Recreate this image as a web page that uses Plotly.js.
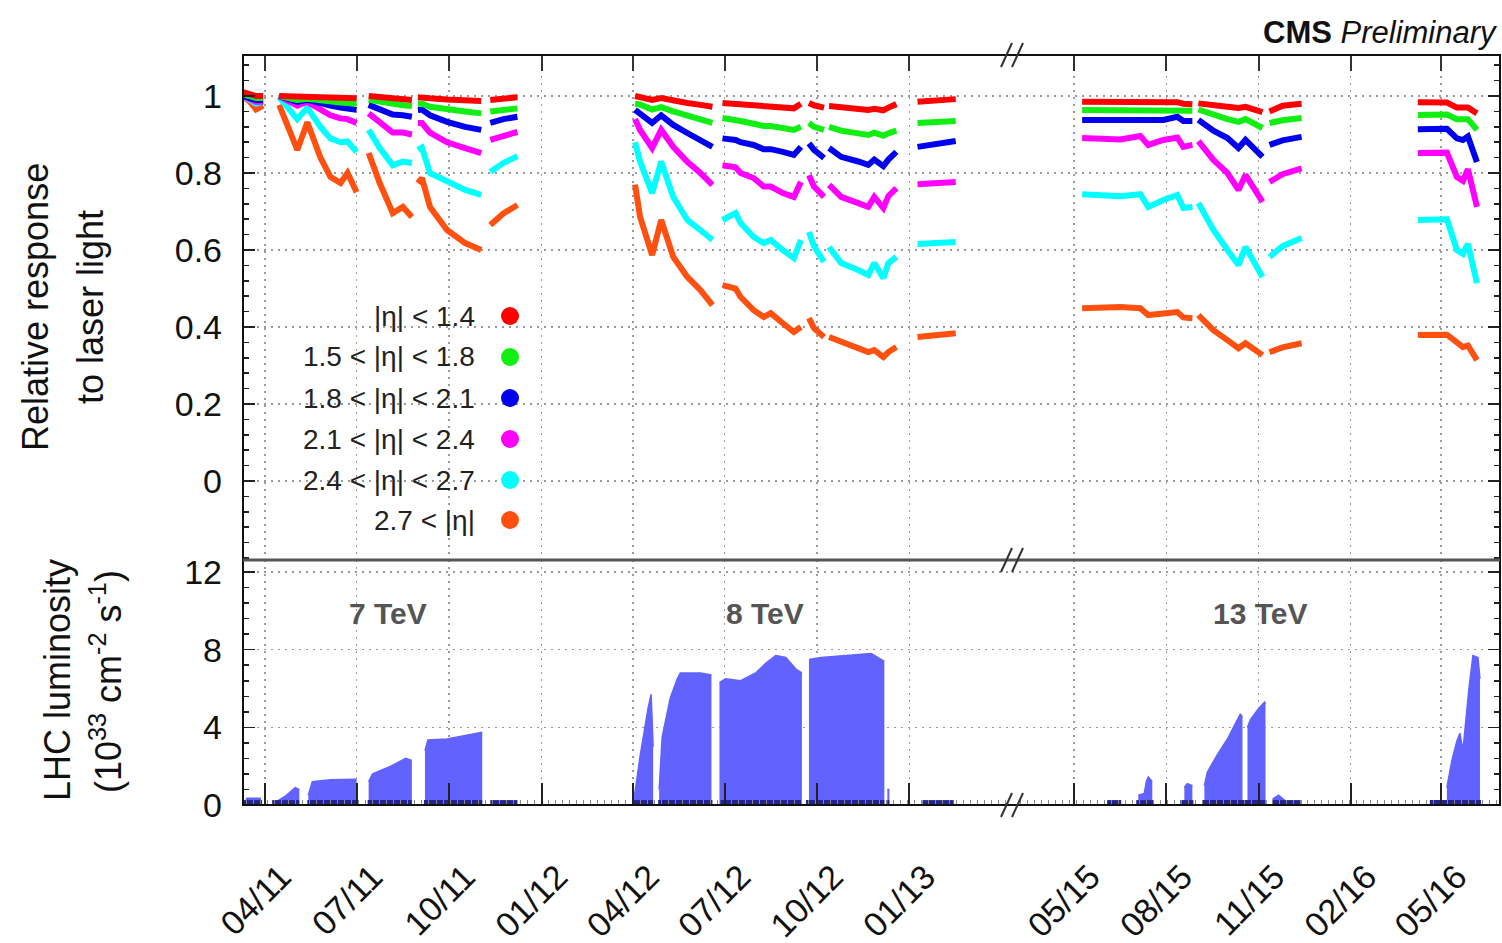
<!DOCTYPE html>
<html><head><meta charset="utf-8">
<script src="https://cdn.plot.ly/plotly-3.0.1.min.js"></script>
<style>html,body{margin:0;padding:0;background:#fff}#chart{width:1502px;height:943px}</style>
</head><body><div id="chart"></div>
<script>
// ---------------- DATA ----------------
// Relative response to laser light: sample dates (null = gap between fills / runs)
const respDates = [
 '2011-03-10','2011-03-17','2011-03-23','2011-03-30',null,
 '2011-04-15','2011-05-03','2011-05-13','2011-05-26','2011-06-05','2011-06-15','2011-06-22','2011-07-01',null,
 '2011-07-13','2011-07-24','2011-08-06','2011-08-16','2011-08-25',null,
 '2011-08-31','2011-09-04','2011-09-12','2011-09-29','2011-10-17','2011-11-02',null,
 '2011-11-11','2011-11-24','2011-12-08',null,
 '2012-04-03','2012-04-08','2012-04-20','2012-04-29','2012-05-11','2012-05-25','2012-06-07','2012-06-19',null,
 '2012-06-29','2012-07-12','2012-07-17','2012-07-30','2012-08-09','2012-08-16','2012-08-28','2012-09-08','2012-09-15',null,
 '2012-09-23','2012-09-28','2012-10-08',null,
 '2012-10-13','2012-10-25','2012-11-11','2012-11-21','2012-11-27','2012-12-06','2012-12-11','2012-12-19',null,
 '2013-01-09','2013-02-16',null,
 '2015-05-09','2015-06-16','2015-07-06','2015-07-14','2015-07-29','2015-08-12','2015-08-18','2015-08-27',null,
 '2015-09-02','2015-09-17','2015-10-01','2015-10-12','2015-10-19','2015-11-05',null,
 '2015-11-12','2015-11-25','2015-12-14',null,
 '2016-04-08','2016-05-07','2016-05-17','2016-05-23','2016-05-28','2016-06-06'
];
const etaBelow14 = [
 1.01,1.005,1.0,1.0,null,
 1.0,0.997,0.998,0.997,0.996,0.995,0.995,0.994,null,
 1.0,0.997,0.993,0.992,0.99,null,
 0.997,0.997,0.994,0.991,0.989,0.987,null,
 0.99,0.994,0.997,null,
 1.0,0.998,0.99,0.995,0.988,0.982,0.977,0.972,null,
 0.982,0.98,0.978,0.975,0.972,0.972,0.97,0.968,0.98,null,
 0.982,0.976,0.97,null,
 0.974,0.97,0.966,0.964,0.967,0.963,0.97,0.979,null,
 0.985,0.992,null,
 0.985,0.985,0.985,0.984,0.984,0.984,0.98,0.979,null,
 0.981,0.975,0.972,0.969,0.972,0.958,null,
 0.96,0.975,0.98,null,
 0.984,0.983,0.97,0.972,0.97,0.955
];
const eta15to18 = [
 1.005,1.0,0.995,0.995,null,
 1.0,0.99,0.993,0.988,0.985,0.983,0.982,0.98,null,
 0.99,0.985,0.978,0.976,0.974,null,
 0.98,0.98,0.972,0.965,0.96,0.955,null,
 0.96,0.965,0.968,null,
 0.98,0.978,0.965,0.971,0.96,0.95,0.94,0.93,null,
 0.943,0.94,0.935,0.928,0.922,0.922,0.917,0.912,0.92,null,
 0.93,0.92,0.912,null,
 0.92,0.91,0.903,0.899,0.905,0.897,0.903,0.91,null,
 0.93,0.935,null,
 0.964,0.964,0.964,0.963,0.964,0.965,0.962,0.962,null,
 0.965,0.95,0.94,0.933,0.94,0.917,null,
 0.93,0.937,0.943,null,
 0.951,0.952,0.94,0.942,0.94,0.912
];
const eta18to21 = [
 1.0,0.995,0.99,0.99,null,
 1.0,0.985,0.99,0.98,0.975,0.97,0.968,0.964,null,
 0.977,0.965,0.952,0.95,0.946,null,
 0.964,0.965,0.95,0.933,0.92,0.912,null,
 0.93,0.94,0.946,null,
 0.964,0.955,0.93,0.95,0.925,0.904,0.885,0.868,null,
 0.89,0.886,0.88,0.873,0.862,0.862,0.855,0.847,0.868,null,
 0.877,0.86,0.839,null,
 0.865,0.842,0.83,0.821,0.835,0.818,0.835,0.855,null,
 0.868,0.883,null,
 0.938,0.937,0.937,0.935,0.938,0.946,0.935,0.935,null,
 0.938,0.91,0.891,0.865,0.886,0.842,null,
 0.873,0.885,0.894,null,
 0.914,0.915,0.89,0.886,0.895,0.829
];
const eta21to24 = [
 1.0,0.99,0.985,0.985,null,
 1.0,0.975,0.985,0.963,0.95,0.942,0.94,0.93,null,
 0.955,0.93,0.905,0.905,0.90,null,
 0.93,0.93,0.905,0.88,0.865,0.852,null,
 0.886,0.898,0.907,null,
 0.94,0.912,0.865,0.912,0.868,0.829,0.80,0.769,null,
 0.82,0.815,0.80,0.787,0.765,0.765,0.748,0.738,0.777,null,
 0.794,0.765,0.738,null,
 0.769,0.738,0.722,0.712,0.738,0.709,0.74,0.761,null,
 0.771,0.777,null,
 0.891,0.887,0.896,0.873,0.886,0.892,0.868,0.873,null,
 0.883,0.834,0.80,0.756,0.795,0.725,null,
 0.777,0.797,0.812,null,
 0.852,0.853,0.79,0.78,0.81,0.712
];
const eta24to27 = [
 1.0,0.99,0.98,0.985,null,
 0.997,0.94,0.97,0.92,0.89,0.88,0.882,0.855,null,
 0.912,0.865,0.82,0.83,0.826,null,
 0.86,0.866,0.80,0.78,0.756,0.743,null,
 0.803,0.826,0.844,null,
 0.88,0.83,0.748,0.83,0.738,0.678,0.652,0.626,null,
 0.678,0.696,0.67,0.634,0.618,0.626,0.60,0.579,0.626,null,
 0.647,0.61,0.569,null,
 0.608,0.566,0.548,0.535,0.566,0.527,0.566,0.582,null,
 0.616,0.621,null,
 0.745,0.74,0.745,0.712,0.73,0.743,0.709,0.712,null,
 0.722,0.652,0.60,0.561,0.608,0.53,null,
 0.582,0.61,0.631,null,
 0.678,0.68,0.60,0.59,0.616,0.514
];
const etaAbove27 = [
 1.0,0.985,0.965,0.975,null,
 0.977,0.86,0.932,0.84,0.79,0.774,0.80,0.75,null,
 0.852,0.774,0.696,0.712,0.686,null,
 0.774,0.787,0.712,0.652,0.618,0.60,null,
 0.665,0.695,0.717,null,
 0.77,0.686,0.587,0.678,0.582,0.53,0.496,0.457,null,
 0.509,0.50,0.478,0.444,0.426,0.436,0.41,0.387,0.40,null,
 0.423,0.397,0.374,null,
 0.374,0.361,0.345,0.335,0.34,0.322,0.335,0.348,null,
 0.374,0.384,null,
 0.449,0.452,0.449,0.431,0.435,0.439,0.425,0.423,null,
 0.431,0.392,0.366,0.345,0.358,0.327,null,
 0.335,0.347,0.358,null,
 0.379,0.38,0.36,0.348,0.352,0.314
];
const etaLabels = ['|η| &lt; 1.4','1.5 &lt; |η| &lt; 1.8','1.8 &lt; |η| &lt; 2.1','2.1 &lt; |η| &lt; 2.4','2.4 &lt; |η| &lt; 2.7','2.7 &lt; |η|'];
const etaColors = ['#ff0000','#11ee11','#0000ee','#ff00ff','#00ffff','#ff5010'];

// LHC peak luminosity envelope (10^33 cm^-2 s^-1), null separates fill periods
const lumDates = [
 '2011-03-11','2011-03-14','2011-03-27','2011-03-28',null,
 '2011-04-10','2011-04-21','2011-05-01','2011-05-05',null,
 '2011-05-14','2011-05-18','2011-06-05','2011-07-01',null,
 '2011-07-13','2011-07-17','2011-08-04','2011-08-19','2011-08-25',null,
 '2011-09-07','2011-09-10','2011-09-29','2011-10-19','2011-11-03',null,
 '2012-04-02','2012-04-08','2012-04-16','2012-04-19','2012-04-21',null,
 '2012-04-27','2012-04-30','2012-05-08','2012-05-15','2012-05-18','2012-06-07','2012-06-18',null,
 '2012-06-26','2012-07-02','2012-07-17','2012-08-01','2012-08-11','2012-08-21','2012-08-31','2012-09-10','2012-09-16',null,
 '2012-09-23','2012-10-05','2012-10-30','2012-11-24','2012-12-07',null,
 '2012-12-10','2012-12-12',null,
 '2015-06-03','2015-06-16',null,
 '2015-07-04','2015-07-10','2015-07-12','2015-07-14','2015-07-18',null,
 '2015-08-19','2015-08-22','2015-08-27',null,
 '2015-09-08','2015-09-11','2015-09-21','2015-10-01','2015-10-08','2015-10-14','2015-10-16',null,
 '2015-10-21','2015-10-24','2015-10-31','2015-11-07','2015-11-08',null,
 '2015-11-15','2015-11-21','2015-11-28',null,
 '2016-05-07','2016-05-12','2016-05-17','2016-05-20','2016-05-23','2016-05-25','2016-05-29','2016-06-02','2016-06-07','2016-06-09'
];
const lumValues = [
 0.05,0.35,0.35,0.05,null,
 0.1,0.45,0.9,0.8,null,
 0.5,1.2,1.3,1.33,null,
 1.2,1.6,2.0,2.4,2.3,null,
 2.8,3.35,3.4,3.6,3.75,null,
 0.3,2.5,5.0,5.7,3.0,null,
 0.8,3.5,5.5,6.5,6.8,6.8,6.7,null,
 6.3,6.5,6.4,6.8,7.3,7.7,7.6,7.0,6.8,null,
 7.5,7.6,7.7,7.8,7.4,null,
 0.8,0.8,null,
 0.15,0.2,null,
 0.5,0.6,1.2,1.45,1.2,null,
 0.9,1.1,1.0,null,
 1.0,1.7,2.6,3.4,4.1,4.7,4.5,null,
 4.0,4.4,4.9,5.3,5.2,null,
 0.3,0.5,0.2,null,
 0.9,2.3,3.3,3.7,2.8,4.0,6.0,7.7,7.6,6.5
];
// periods with beam (dark baseline)
const beamDates = [
 '2011-03-10','2011-03-29',null,'2011-04-08','2011-05-05',null,'2011-05-13','2011-07-01',null,
 '2011-07-12','2011-08-25',null,'2011-09-06','2011-11-03',null,'2011-11-11','2011-12-08',null,
 '2012-04-01','2012-04-21',null,'2012-04-26','2012-06-19',null,'2012-06-27','2012-09-16',null,
 '2012-09-20','2012-12-07',null,'2012-12-10','2012-12-12',null,'2013-01-14','2013-02-14',null,
 '2015-06-03','2015-06-17',null,'2015-07-02','2015-07-19',null,'2015-08-15','2015-08-28',null,
 '2015-09-06','2015-11-09',null,'2015-11-15','2015-12-14',null,'2016-04-20','2016-06-10'
];
const beamLevel = beamDates.map(d => d === null ? null : 0.15);

const ticks1 = ['2011-04-01','2011-07-01','2011-10-01','2012-01-01','2012-04-01','2012-07-01','2012-10-01','2013-01-01'];
const labels1 = ['04/11','07/11','10/11','01/12','04/12','07/12','10/12','01/13'];
const ticks2 = ['2015-05-01','2015-08-01','2015-11-01','2016-02-01','2016-05-01'];
const labels2 = ['05/15','08/15','11/15','02/16','05/16'];
const range1 = ['2011-03-10','2013-04-13'];
const range2 = ['2015-02-28','2016-06-29'];
const respTicks = [0,0.2,0.4,0.6,0.8,1];
const lumTicks = [0,4,8,12];
const energies = [['7 TeV',388],['8 TeV',765],['13 TeV',1260]];

// ---------------- LAYOUT HELPERS ----------------
const W=1502,H=943,ML=243,MR=2,MT=55,MB=138;
const pw=W-ML-MR, ph=H-MT-MB;
const fx = p => (p-ML)/pw;
const fy = p => (H-MB-p)/ph;
const splitX = fx(1012);
const splitY = fy(560);
const FONT = 'Liberation Sans, Arial, sans-serif';
const grid = {showgrid:true, gridcolor:'#9a9a9a', griddash:'2px,5px', gridwidth:1.5};

// split a null-separated series into its runs
function runs(xs, ys) {
  const out = []; let cx = [], cy = [];
  xs.forEach((x,i) => {
    if (x === null || ys[i] === null) { if (cx.length) out.push([cx,cy]); cx=[]; cy=[]; }
    else { cx.push(x); cy.push(ys[i]); }
  });
  if (cx.length) out.push([cx,cy]);
  return out;
}

const series = [etaBelow14, eta15to18, eta18to21, eta21to24, eta24to27, etaAbove27];
const traces = [];
[['x3','y2'],['x4','y4']].forEach(([xa,ya]) => {
  series.slice().reverse().forEach((vals, k) => {
    const i = series.length-1-k;
    traces.push({type:'scatter', mode:'lines', x:respDates, y:vals, xaxis:xa, yaxis:ya,
      line:{color:etaColors[i], width:6}, connectgaps:false, showlegend:false, hoverinfo:'skip'});
  });
});
[['x','y'],['x2','y3']].forEach(([xa,ya]) => {
  runs(lumDates, lumValues).forEach(([rx,ry]) => {
    traces.push({type:'scatter', mode:'lines', x:rx, y:ry, xaxis:xa, yaxis:ya,
      fill:'tozeroy', fillcolor:'#6262ff', line:{color:'#6262ff', width:1.5}, showlegend:false});
  });
  traces.push({type:'scatter', mode:'lines', x:beamDates, y:beamLevel, xaxis:xa, yaxis:ya,
    line:{color:'#23238f', width:4}, connectgaps:false, showlegend:false});
});

const xBottom = (dom, rng, tv, tt) => Object.assign({
  type:'date', domain:dom, range:rng, tickmode:'array', tickvals:tv, ticktext:tt,
  ticks:'inside', ticklen:22, tickwidth:2, tickcolor:'#222', tickangle:-45,
  tickfont:{family:FONT, size:34, color:'#111'}, ticklabelstandoff:44, ticklabelshift:16,
  minor:{dtick:7*86400000, ticks:'inside', ticklen:5, tickcolor:'#888', tickwidth:1, showgrid:false},
  showline:false, zeroline:false, fixedrange:true}, grid);
const xTop = (dom, rng, tv) => Object.assign({
  type:'date', domain:dom, range:rng, tickmode:'array', tickvals:tv, side:'top',
  ticks:'inside', ticklen:16, tickwidth:2, tickcolor:'#333', showticklabels:false,
  showline:false, zeroline:false}, grid);
const yResp = (anchor, side) => Object.assign({
  domain:[splitY,1], anchor:anchor, side:side, range:[-0.2051,1.1066], tickmode:'array', tickvals:respTicks,
  ticks:'inside', ticklen:12, tickwidth:1.5, tickcolor:'#222', showticklabels: side==='left',
  tickfont:{family:FONT, size:34, color:'#111'}, ticklabelstandoff:20,
  minor:{tick0:0, dtick:0.04, ticks:'inside', ticklen:6, tickcolor:'#222', showgrid:false},
  showline:false, zeroline:false}, grid);
const yLum = (anchor, side) => Object.assign({
  domain:[0,splitY], anchor:anchor, side:side, range:[0,12.62], tickmode:'array', tickvals:lumTicks,
  ticks:'inside', ticklen:12, tickwidth:1.5, tickcolor:'#222', showticklabels: side==='left',
  tickfont:{family:FONT, size:34, color:'#111'}, ticklabelstandoff:20,
  minor:{tick0:0, dtick:0.8, ticks:'inside', ticklen:6, tickcolor:'#222', showgrid:false},
  showline:false, zeroline:false}, grid);

const shapes = [
  {type:'rect', xref:'paper', yref:'paper', x0:0, x1:1, y0:0, y1:1, line:{color:'#111', width:2}, layer:'above'},
  {type:'line', xref:'paper', yref:'paper', x0:0, x1:1, y0:splitY, y1:splitY, line:{color:'#555', width:3}, layer:'above'}
];
[55,560,805].forEach(py => {
  [1001,1012].forEach(px => {
    shapes.push({type:'line', xref:'paper', yref:'paper', x0:fx(px), x1:fx(px+11), y0:fy(py+12), y1:fy(py-12),
      line:{color:'#333', width:2}, layer:'above'});
  });
});
const legRows = [316,357,398,439,480,520];
const annotations = [];
etaLabels.forEach((t,i) => {
  annotations.push({xref:'paper', yref:'paper', x:fx(477), y:fy(legRows[i]), xanchor:'right', yanchor:'middle',
    text:t, showarrow:false, font:{family:FONT, size:28, color:'#222'}});
  const r = 9;
  shapes.push({type:'circle', xref:'paper', yref:'paper', x0:fx(510-r), x1:fx(510+r), y0:fy(legRows[i]+r), y1:fy(legRows[i]-r),
    fillcolor:etaColors[i], line:{color:etaColors[i], width:0}, layer:'above'});
});
energies.forEach(([t,px]) => annotations.push({xref:'paper', yref:'paper', x:fx(px), y:fy(613), xanchor:'center', yanchor:'middle',
  text:'<b>'+t+'</b>', showarrow:false, font:{family:FONT, size:30, color:'#555'}}));
annotations.push({xref:'paper', yref:'paper', x:1.0, y:fy(32), xanchor:'right', yanchor:'middle',
  text:'<b>CMS</b> <i>Preliminary</i>', showarrow:false, font:{family:FONT, size:31, color:'#111'}});
// axis titles
const titles = [['Relative response',35,307],['to laser light',90,307],['LHC luminosity',57,680],['(10<sup>33</sup> cm<sup>-2</sup> s<sup>-1</sup>)',106,682]];
titles.forEach(([t,px,py]) => annotations.push({xref:'paper', yref:'paper', x:fx(px), y:fy(py), xanchor:'center', yanchor:'middle',
  text:t, textangle:-90, showarrow:false, font:{family:FONT, size:36, color:'#111'}}));

const layout = {
  width:W, height:H, margin:{l:ML, r:MR, t:MT, b:MB}, paper_bgcolor:'#fff', plot_bgcolor:'#fff',
  font:{family:FONT, color:'#111'}, showlegend:false,
  xaxis: Object.assign(xBottom([0,splitX], range1, ticks1, labels1), {anchor:'y'}),
  xaxis2: Object.assign(xBottom([splitX,1], range2, ticks2, labels2), {anchor:'y3'}),
  xaxis3: Object.assign(xTop([0,splitX], range1, ticks1), {anchor:'y2'}),
  xaxis4: Object.assign(xTop([splitX,1], range2, ticks2), {anchor:'y4'}),
  yaxis: yLum('x','left'),
  yaxis3: yLum('x2','right'),
  yaxis2: yResp('x3','left'),
  yaxis4: yResp('x4','right'),
  shapes:shapes, annotations:annotations
};
Plotly.newPlot('chart', traces, layout, {displayModeBar:false, staticPlot:true});
</script></body></html>
